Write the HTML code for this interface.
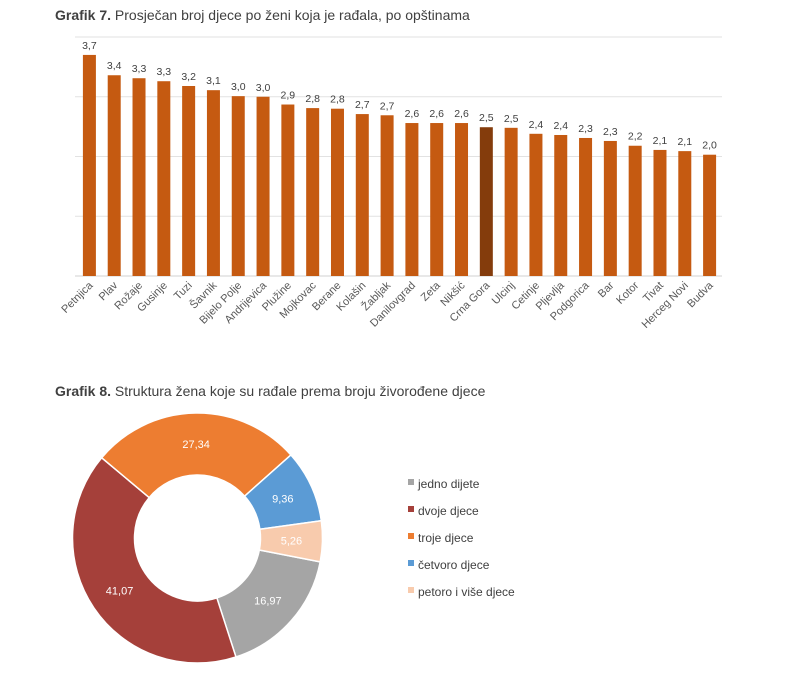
<!DOCTYPE html>
<html><head><meta charset="utf-8"><style>
body{margin:0;background:#fff;width:790px;height:676px;overflow:hidden;font-family:"Liberation Sans",Arial,sans-serif}
svg{position:absolute;left:0;top:0}
</style></head><body>
<svg id="c" width="790" height="676">
<text x="55" y="20" font-size="14" fill="#404040"><tspan font-weight="bold">Grafik 7.</tspan> Prosječan broj djece po ženi koja je rađala, po opštinama</text>
<text x="55" y="396" font-size="14" fill="#404040"><tspan font-weight="bold">Grafik 8.</tspan> Struktura žena koje su rađale prema broju živorođene djece</text>
<g id="bars"></g>
<g id="donut"></g>
<g id="legend"></g>
</svg>
<script>
const municipalities=["Petnjica","Plav","Rožaje","Gusinje","Tuzi","Šavnik","Bijelo Polje","Andrijevica","Plužine","Mojkovac","Berane","Kolašin","Žabljak","Danilovgrad","Zeta","Nikšić","Crna Gora","Ulcinj","Cetinje","Pljevlja","Podgorica","Bar","Kotor","Tivat","Herceg Novi","Budva"];
const avgChildren=[3.70,3.36,3.31,3.26,3.18,3.11,3.01,3.00,2.87,2.81,2.80,2.71,2.69,2.56,2.56,2.56,2.49,2.48,2.38,2.36,2.31,2.26,2.18,2.11,2.09,2.03];
const yTicks=[0,1,2,3,4];
const donutLabels=["jedno dijete","dvoje djece","troje djece","četvoro djece","petoro i više djece"];
const donutValues=[16.97,41.07,27.34,9.36,5.26];
const donutColors=["#a5a5a5","#a5403a","#ed7d31","#5b9bd5","#f8cbad"];
const NS="http://www.w3.org/2000/svg";
function mk(t,a,p){const e=document.createElementNS(NS,t);for(const k in a)e.setAttribute(k,a[k]);p.appendChild(e);return e;}
const fmt=v=>(Math.round(v*10)/10).toFixed(1).replace('.',',');
// bar chart
const bg=document.getElementById('bars');
const x0=77,x1=722,yBase=276,yTop=37,yMax=4;
const yS=v=>yBase-(v/yMax)*(yBase-yTop);
const step=(x1-x0)/municipalities.length;
const xS=i=>x0+step*(i+0.5);
yTicks.forEach(t=>{const l=mk('line',{x1:x0-2,x2:x1,y1:yS(t),y2:yS(t),stroke:t===0?'#d0d0d0':'#e2e2e2','stroke-width':1},bg);

});
municipalities.forEach((m,i)=>{
 const v=avgChildren[i],cx=xS(i),w=13;
 const r=mk('rect',{x:cx-w/2,y:yS(v),width:w,height:yBase-yS(v),fill:m==="Crna Gora"?"#843c0c":"#c55a11"},bg);
 
 
 const t=mk('text',{x:cx,y:yS(v)-6,'text-anchor':'middle','font-size':10.5,fill:'#404040'},bg);t.textContent=fmt(v);
 
 
 const c=mk('text',{x:cx+4,y:yBase+10,'text-anchor':'end','font-size':11,fill:'#595959',transform:`rotate(-45 ${cx+4} ${yBase+10})`},bg);c.textContent=m;
 
 
});
// donut
const dg=document.getElementById('donut');
const cx=197.5,cy=538,R=125,r0=63;
const total=donutValues.reduce((a,b)=>a+b,0);
let ang=101;
const pt=(a,rad)=>[cx+rad*Math.sin(a*Math.PI/180),cy-rad*Math.cos(a*Math.PI/180)];
donutValues.forEach((v,i)=>{
 const sw=v/total*360,a1=ang,a2=ang+sw,lg=sw>180?1:0;
 const [ax,ay]=pt(a1,R),[bx,by]=pt(a2,R),[cx2,cy2]=pt(a2,r0),[dx,dy]=pt(a1,r0);
 const p=mk('path',{d:`M${ax},${ay}A${R},${R} 0 ${lg} 1 ${bx},${by}L${cx2},${cy2}A${r0},${r0} 0 ${lg} 0 ${dx},${dy}Z`,fill:donutColors[i],stroke:'#fff','stroke-width':1.5},dg);
 
 
 const [lx,ly]=pt((a1+a2)/2,(R+r0)/2);
 const t=mk('text',{x:lx,y:ly+4,'text-anchor':'middle','font-size':11,fill:'#fff'},dg);t.textContent=v.toFixed(2).replace('.',',');
 
 
 ang=a2;
});
// legend
const lgG=document.getElementById('legend');
donutLabels.forEach((l,i)=>{
 const y=484+i*27;
 const s=mk('rect',{x:408,y:y-5,width:6,height:6,fill:donutColors[i]},lgG);
 
 
 const t=mk('text',{x:418,y:y+4,'font-size':12,fill:'#404040'},lgG);t.textContent=l;
 
 
});
</script>
</body></html>
